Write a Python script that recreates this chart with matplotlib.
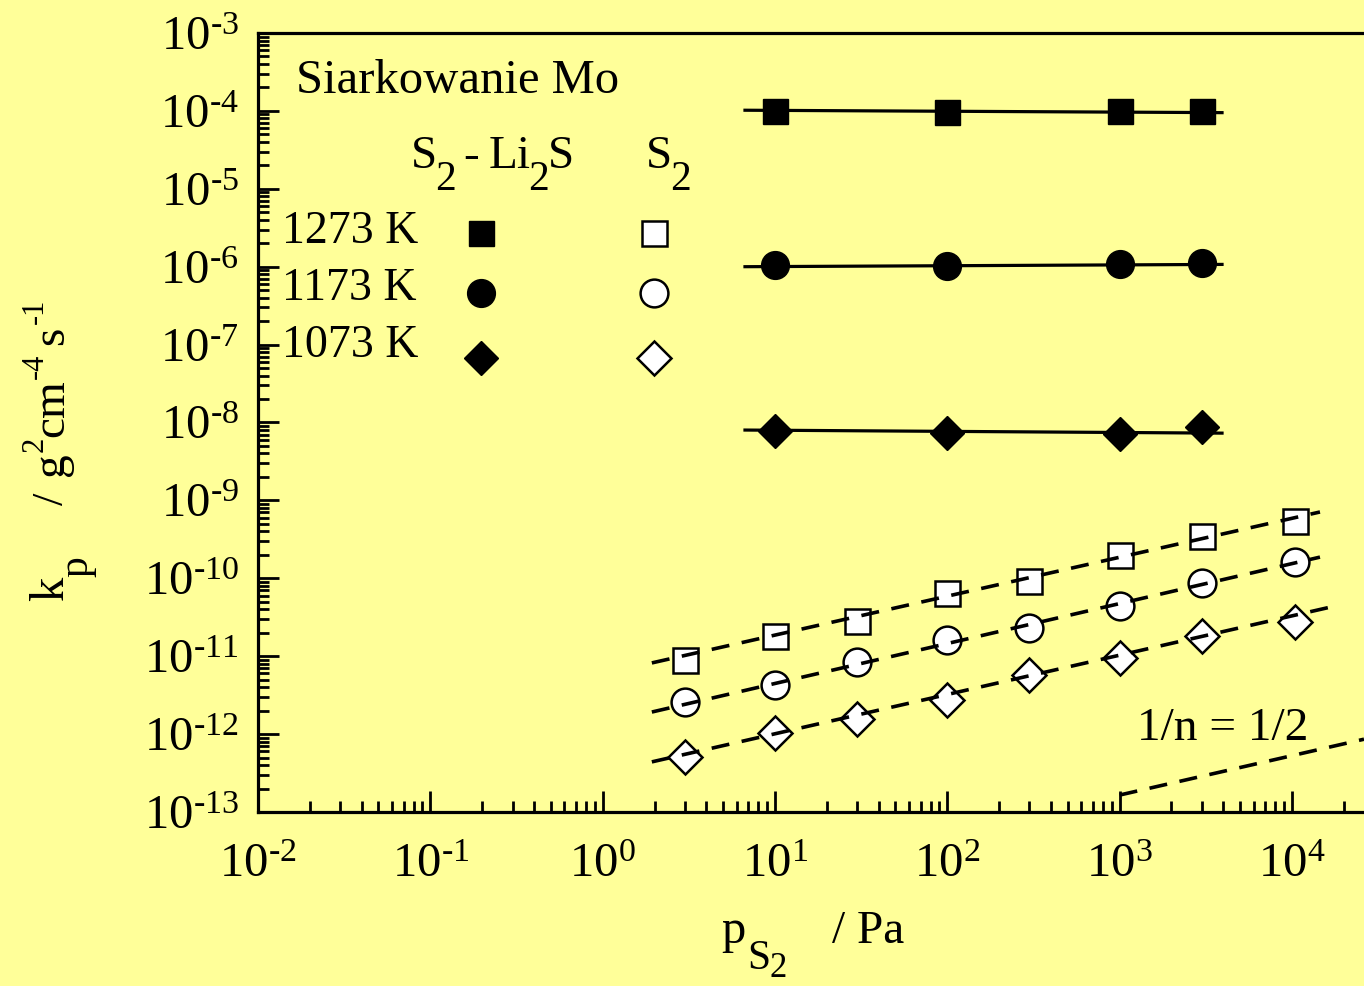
import numpy as np
import matplotlib
matplotlib.use('Agg')
import matplotlib.pyplot as plt
from matplotlib.ticker import LogLocator, NullFormatter, FuncFormatter

plt.rcParams['font.family'] = ['Liberation Serif', 'DejaVu Serif']
plt.rcParams['mathtext.fontset'] = 'custom'
plt.rcParams['mathtext.rm'] = 'Liberation Serif'
plt.rcParams['mathtext.it'] = 'Liberation Serif:italic'

bg = '#FFFF99'
W, H = 1364, 986

# S2 - Li2S (filled markers)
x_li = [10, 100, 1000, 3000]
kp_li_1273 = [1.0e-4, 0.97e-4, 1.0e-4, 1.0e-4]
kp_li_1173 = [1.05e-6, 1.03e-6, 1.08e-6, 1.1e-6]
kp_li_1073 = [7.8e-9, 7.3e-9, 7.2e-9, 8.7e-9]
fit_li_x = [6.7, 3930]
fit_li_1273 = [1.02e-4, 0.95e-4]
fit_li_1173 = [1.0e-6, 1.07e-6]
fit_li_1073 = [8.0e-9, 7.3e-9]

# S2 (open markers)
x_s2 = [3, 10, 30, 100, 300, 1000, 3000, 10400]
kp_s2_1273 = [8.9e-12, 1.8e-11, 2.8e-11, 6.4e-11, 9.2e-11, 2.0e-10, 3.5e-10, 5.4e-10]
kp_s2_1173 = [2.6e-12, 4.3e-12, 8.4e-12, 1.6e-11, 2.3e-11, 4.4e-11, 8.7e-11, 1.6e-10]
kp_s2_1073 = [5.1e-13, 1.03e-12, 1.56e-12, 2.7e-12, 5.7e-12, 9.5e-12, 1.8e-11, 2.75e-11]
fit_s2_x = [1.93, 14550]
fit_s2_1273 = [8.2e-12, 7.1e-10]
fit_s2_1173 = [1.92e-12, 1.87e-10]
fit_s2_1073_x = [1.93, 16200]
fit_s2_1073 = [4.4e-13, 4.2e-11]

# reference slope 1/n = 1/2
ref_x = [1000, 26200]
ref_y = [1.65e-13, 8.6e-13]

fig = plt.figure(figsize=(W/100, H/100), dpi=100, facecolor=bg)
ax = fig.add_axes([258/W, 1-812/H, 1-258/W, (812-33)/H])
ax.set_facecolor(bg)
ax.set_xscale('log')
ax.set_yscale('log')
ax.set_xlim(1e-2, 26200)
ax.set_ylim(1e-13, 1e-3)

lw = 2.3
fs = 35

# filled markers + solid fits
for y, fy, m, ms in [(kp_li_1273, fit_li_1273, 's', 18),
                     (kp_li_1173, fit_li_1173, 'o', 20),
                     (kp_li_1073, fit_li_1073, 'D', 17)]:
    ax.plot(fit_li_x, fy, '-', color='black', lw=lw, zorder=2)
    ax.plot(x_li, y, m, ms=ms, mfc='black', mec='black', zorder=3, clip_on=False)

# open markers + dashed fits drawn on top
for y, fx, fy, m, ms in [(kp_s2_1273, fit_s2_x, fit_s2_1273, 's', 18),
                         (kp_s2_1173, fit_s2_x, fit_s2_1173, 'o', 20),
                         (kp_s2_1073, fit_s2_1073_x, fit_s2_1073, 'D', 17)]:
    ax.plot(x_s2, y, m, ms=ms, mfc='white', mec='black', mew=1.8, zorder=3, clip_on=False)
    ax.plot(fx, fy, color='black', lw=2.6, dashes=(5, 3.5), zorder=4)

ax.plot(ref_x, ref_y, color='black', lw=2.6, dashes=(5, 3.5), zorder=4)

# axes styling
for s in ['left', 'bottom', 'top']:
    ax.spines[s].set_linewidth(2.3)
ax.spines['right'].set_visible(False)


def pow_label(v, pos):
    e = int(round(np.log10(v)))
    s = r'\text{-}%d' % -e if e < 0 else '%d' % e
    return r'$\mathregular{10^{%s}}$' % s


for axis in (ax.xaxis, ax.yaxis):
    axis.set_major_locator(LogLocator(base=10, numticks=30))
    axis.set_minor_locator(LogLocator(base=10, subs=np.arange(2, 10), numticks=300))
    axis.set_minor_formatter(NullFormatter())
    axis.set_major_formatter(FuncFormatter(pow_label))
ax.tick_params(which='major', direction='in', length=15, width=2, labelsize=fs)
ax.tick_params(which='minor', direction='in', length=8, width=2)
ax.tick_params(axis='x', which='both', top=False, pad=22)
ax.tick_params(axis='y', which='both', right=False, pad=14)


def ptext(x, y, s, size, **kw):
    # x, y in pixels from the top-left corner; y is the baseline
    fig.text(x/W, 1-y/H, s, fontsize=size, ha='left', va='baseline', **kw)


# in-plot texts
ax.text(0.034, 0.938, 'Siarkowanie Mo', transform=ax.transAxes, fontsize=fs, va='center')
for s, x, y, size in [('S', 411, 168, 34), ('2', 435, 190, 30), ('-', 463, 168, 34),
                      ('Li', 489, 168, 34), ('2', 528, 190, 30), ('S', 548, 168, 34),
                      ('S', 646, 168, 34), ('2', 670, 190, 30)]:
    ptext(x, y, s, size)
for lab, yy in [('1273 K', 243), ('1173 K', 300), ('1073 K', 357)]:
    ptext(282, yy, lab, 33)
for m, ms, yy in [('s', 18, 0.743), ('o', 20, 0.666), ('D', 17, 0.583)]:
    ax.plot([0.2016], [yy], m, ms=ms, mfc='black', mec='black', transform=ax.transAxes)
    ax.plot([0.358], [yy], m, ms=ms, mfc='white', mec='black', mew=1.8, transform=ax.transAxes)
ptext(1137, 740, '1/n = 1/2', 34)

# y axis title, rotated pieces: (text, baseline x, start y, size)
for s, x, y, size in [('k', 63, 601, 35), ('p', 87, 577, 30), ('/', 63, 505, 32),
                      ('g', 63, 476, 34), ('2', 43, 452, 22), ('cm', 63, 437, 34),
                      ('-4', 43, 379, 22), ('s', 63, 345, 34), ('-1', 43, 324, 22)]:
    ptext(x, y, s, size, rotation=90, rotation_mode='anchor')

# x axis title
for s, x, y, size in [('p', 721, 943, 35), ('S', 747, 969, 30), ('2', 769, 977, 25),
                      ('/ Pa', 832, 943, 34)]:
    ptext(x, y, s, size)

fig.savefig('out.png', dpi=100, facecolor=bg)
